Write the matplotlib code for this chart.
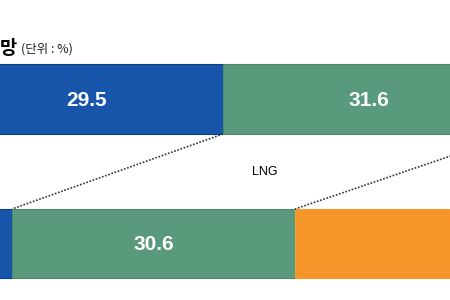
import matplotlib
matplotlib.use("Agg")
import matplotlib.pyplot as plt

# Data (percent shares); the chart is a crop of a wider figure
segments = ["blue", "LNG", "orange"]
top_values = [29.5, 31.6, 20.0]
bottom_values = [6.7, 30.6, 25.0]
top_labels = ["29.5", "31.6", ""]
bottom_labels = ["", "30.6", ""]
middle_label = "LNG"
title_main = "망"
title_unit = "(단위 : %)"

colors = ["#1655a9", "#589a7b", "#f6962a"]
edge = ["#0e3f86", "#4a8a6c", "#f0a030"]

lab_family = ["Liberation Sans", "DejaVu Sans"]

fig = plt.figure(figsize=(4.5, 3.0), dpi=100)
ax = fig.add_axes([0, 0, 1, 1])
ax.set_xlim(5.4, 54.06)
ax.set_ylim(300, 0)
ax.axis("off")

top_y, top_h = 99, 70
bot_y, bot_h = 243.5, 69

def draw_bar(values, labels, yc, h):
    left = 0.0
    bounds = []
    for v, c, ec, lab in zip(values, colors, edge, labels):
        ax.barh(yc, v, left=left, height=h, color=c, edgecolor=ec, linewidth=0.8)
        if lab:
            ax.text(left + v / 2, yc + 1, lab, ha="center", va="center", color="white",
                    fontsize=15, fontweight="bold", family=lab_family)
        left += v
        bounds.append(left)
    return bounds

tb = draw_bar(top_values, top_labels, top_y, top_h)
bb = draw_bar(bottom_values, bottom_labels, bot_y, bot_h)

# dotted connector lines between segment boundaries
for i in range(2):
    ax.plot([tb[i], bb[i]], [top_y + top_h / 2, bot_y - bot_h / 2], linestyle=(0, (1, 1)),
            color="#333333", linewidth=1.2, clip_on=True)

ax.text((tb[0] + bb[1]) / 2 + 0.65, 172, middle_label, ha="center", va="center", color="black",
        fontsize=9, family=lab_family)

fig.text(0 / 450, 1 - 48 / 300, title_main, ha="left", va="center", fontsize=13.5,
         fontweight="bold", family=["Noto Sans CJK KR", "DejaVu Sans"])
fig.text(21 / 450, 1 - 49 / 300, title_unit, ha="left", va="center", fontsize=9,
         family=["Noto Sans CJK KR", "DejaVu Sans"], color="#222222")

fig.savefig("out.png", dpi=100)
